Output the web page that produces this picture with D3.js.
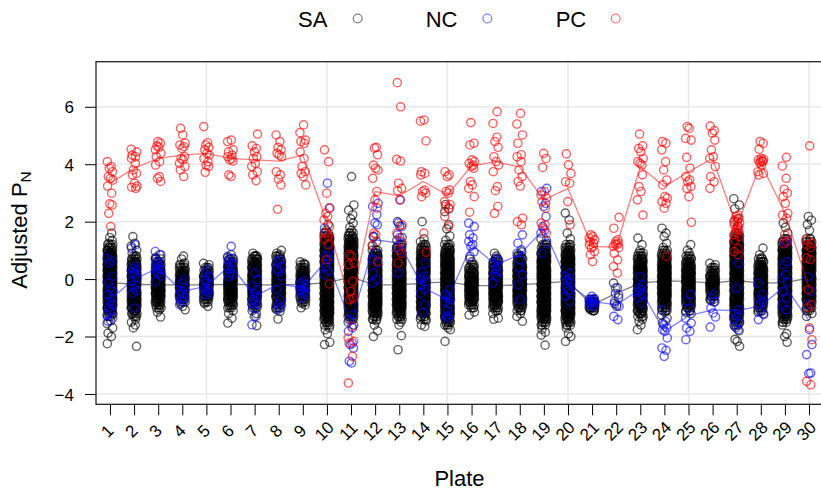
<!DOCTYPE html>
<html lang="en">
<head>
  <meta charset="UTF-8">
  <title>Adjusted PN by plate</title>
  <script src="https://d3js.org/d3.v7.min.js"></script>
  <style>
    body { margin: 0; background: #fff; }
    svg { display: block; }
    text { font-family: "Liberation Sans", Arial, sans-serif; fill: #000; }
    .tick text { font-size: 17px; }
    .tick line { stroke: #000; stroke-width: 1; }
  </style>
</head>
<body>
  <svg id="chart" width="821" height="491"></svg>

  <script>
    const plates = d3.range(1, 31);
    const yTicks = [-4, -2, 0, 2, 4, 6];
    const gridX = [5, 10, 15, 20, 25, 30];

    // per plate means (the connecting lines)
    const saMean = [-0.12, -0.18, -0.2, -0.2, -0.2, -0.18, -0.2, -0.2, -0.18, -0.13, 0.07, -0.2, -0.2, -0.14, -0.1, -0.23, -0.23, -0.2, -0.14, -0.08, -0.9, -0.5, -0.14, -0.06, -0.08, -0.14, -0.05, -0.14, -0.12, 0.03];
    const ncMean = [-0.72, 0, 0.38, -0.43, -0.25, 0.5, -0.6, -0.17, -0.3, 0.67, -1.53, 1.37, 1.25, -0.3, -0.72, 1.2, 0.5, 0.85, 1.75, -0.15, -0.78, -0.9, -0.35, -1.82, -1.28, -1.07, -1.1, -0.93, -0.25, -1.45];
    const pcMean = [3.34, 3.86, 4.2, 4.32, 4.38, 4.2, 4.15, 4.11, 4.32, 2.0, -0.9, 3.05, 2.9, 3.4, 2.93, 3.94, 4.09, 3.9, 2.76, 3.16, 1.14, 1.11, 3.92, 3.22, 3.74, 4.2, 1.83, 4.03, 2.3, -0.31];

    // SA samples: how many sit around each level in the dense part of a column
    const saLevels = [-1.6, -1.5, -1.4, -1.3, -1.2, -1.1, -1, -0.9, -0.8, -0.7, -0.6, -0.5, -0.4, -0.3, -0.2, -0.1, 0, 0.1, 0.2, 0.3, 0.4, 0.5, 0.6, 0.7, 0.8, 0.9, 1, 1.1, 1.2, 1.3, 1.4, 1.5, 1.6];
    const saCounts = [
      [0, 0, 0, 3, 4, 5, 6, 7, 8, 8, 8, 8, 8, 8, 8, 8, 8, 8, 8, 8, 8, 8, 8, 8, 7, 6, 5, 4, 3],
      [0, 0, 0, 3, 4, 5, 6, 7, 8, 8, 8, 8, 8, 8, 8, 8, 8, 8, 8, 8, 7, 6, 5, 4, 3],
      [0, 0, 0, 0, 0, 0, 3, 4, 5, 6, 7, 8, 8, 8, 8, 8, 8, 8, 8, 7, 6, 5, 4, 3],
      [0, 0, 0, 0, 0, 0, 0, 0, 3, 4, 5, 6, 7, 8, 8, 8, 8, 7, 6, 5, 4, 3],
      [0, 0, 0, 0, 0, 0, 0, 0, 3, 4, 5, 6, 7, 8, 8, 8, 7, 6, 5, 4, 3],
      [0, 0, 0, 0, 0, 0, 3, 4, 5, 6, 7, 8, 8, 8, 8, 8, 8, 8, 8, 7, 6, 5, 4, 3],
      [0, 0, 0, 0, 0, 0, 3, 4, 5, 6, 7, 8, 8, 8, 8, 8, 8, 8, 8, 8, 7, 6, 5, 4, 3],
      [0, 0, 0, 0, 0, 0, 3, 4, 5, 6, 7, 8, 8, 8, 8, 8, 8, 8, 8, 8, 7, 6, 5, 4, 3],
      [0, 0, 0, 0, 0, 0, 0, 0, 3, 4, 5, 6, 7, 8, 8, 8, 8, 7, 6, 5, 4, 3],
      [3, 4, 5, 6, 7, 8, 8, 8, 8, 8, 8, 8, 8, 8, 8, 8, 8, 8, 8, 8, 8, 8, 8, 8, 8, 8, 8, 8, 7, 6, 5, 4, 3],
      [0, 0, 3, 4, 5, 6, 7, 8, 8, 8, 8, 8, 8, 8, 8, 8, 8, 8, 8, 8, 8, 8, 8, 8, 8, 8, 8, 8, 7, 6, 5, 4, 3],
      [0, 0, 3, 4, 5, 6, 7, 8, 8, 8, 8, 8, 8, 8, 8, 8, 8, 8, 8, 8, 8, 8, 7, 6, 5, 4, 3],
      [0, 0, 3, 4, 5, 6, 7, 8, 8, 8, 8, 8, 8, 8, 8, 8, 8, 8, 8, 8, 8, 8, 8, 8, 7, 6, 5, 4, 3],
      [0, 0, 3, 4, 5, 6, 7, 8, 8, 8, 8, 8, 8, 8, 8, 8, 8, 8, 8, 8, 8, 8, 8, 8, 7, 6, 5, 4, 3],
      [3, 4, 5, 6, 7, 8, 8, 8, 8, 8, 8, 8, 8, 8, 8, 8, 8, 8, 8, 8, 8, 8, 8, 8, 7, 6, 5, 4, 3],
      [0, 0, 0, 0, 0, 0, 3, 4, 5, 6, 7, 8, 8, 8, 8, 8, 8, 7, 6, 5, 4, 3],
      [0, 0, 0, 0, 0, 3, 4, 5, 6, 7, 8, 8, 8, 8, 8, 8, 8, 8, 8, 7, 6, 5, 4, 3],
      [0, 0, 0, 0, 0, 3, 4, 5, 6, 7, 8, 8, 8, 8, 8, 8, 8, 8, 8, 8, 7, 6, 5, 4, 3],
      [3, 4, 5, 6, 7, 8, 8, 8, 8, 8, 8, 8, 8, 8, 8, 8, 8, 8, 8, 8, 8, 8, 8, 8, 7, 6, 5, 4, 3],
      [3, 4, 5, 6, 7, 8, 8, 8, 8, 8, 8, 8, 8, 8, 8, 8, 8, 8, 8, 8, 8, 8, 8, 8, 7, 6, 5, 4, 3],
      [0, 0, 0, 0, 0, 3, 5, 6, 5, 3],
      [],
      [0, 0, 0, 3, 4, 5, 6, 7, 8, 8, 8, 8, 8, 8, 8, 8, 8, 8, 8, 8, 8, 7, 6, 5, 4, 3],
      [0, 0, 0, 0, 0, 3, 4, 5, 6, 7, 8, 8, 8, 8, 8, 8, 8, 8, 8, 8, 8, 8, 7, 6, 5, 4, 3],
      [0, 0, 0, 0, 0, 3, 4, 5, 6, 7, 8, 8, 8, 8, 8, 8, 8, 8, 8, 8, 7, 6, 5, 4, 3],
      [0, 0, 0, 0, 0, 0, 0, 0, 0, 3, 4, 5, 6, 7, 8, 8, 7, 6, 5, 4, 3],
      [3, 4, 5, 6, 7, 8, 8, 8, 8, 8, 8, 8, 8, 8, 8, 8, 8, 8, 8, 8, 8, 8, 8, 8, 8, 8, 8, 8, 7, 6, 5, 4, 3],
      [0, 0, 0, 0, 0, 3, 4, 5, 6, 7, 8, 8, 8, 8, 8, 8, 8, 8, 8, 7, 6, 5, 4, 3],
      [0, 3, 4, 5, 6, 7, 8, 8, 8, 8, 8, 8, 8, 8, 8, 8, 8, 8, 8, 8, 8, 8, 8, 8, 8, 8, 7, 6, 5, 4, 3],
      [0, 0, 0, 0, 0, 3, 4, 5, 6, 7, 8, 8, 8, 8, 8, 8, 8, 8, 8, 8, 8, 8, 8, 8, 8, 8, 7, 6, 5, 4, 3]
    ];
    // SA samples that stand apart above and below the dense part
    const saTails = [
      [1.6, 1.45, 1.35, 1.25, -1.45, -1.55, -1.7, -1.88, -2.0, -2.25],
      [1.48, 1.25, 1.15, 1.0, 0.9, -1.4, -1.5, -1.6, -1.7, -2.34],
      [0.85, 0.75, -1.07, -1.15, -1.32],
      [0.8, 0.7, 0.56, -0.85, -0.95, -1.07],
      [0.55, 0.5, -0.85, -0.95],
      [0.85, 0.75, -1.1, -1.2, -1.36, -1.53],
      [0.9, 0.8, 0.7, -1.1, -1.2, -1.3, -1.62],
      [1.0, 0.9, 0.85, -1.05, -1.12, -1.39],
      [0.6, 0.55, -0.85, -0.9, -1.0],
      [1.9, 1.7, -1.7, -1.76, -1.9, -2.2, -2.28],
      [3.57, 2.58, 2.4, 2.24, 2.1, 1.95, 1.8, 1.7, -1.5, -1.6],
      [1.48, 1.3, 1.15, -1.45, -1.6, -1.8, -2.0],
      [2.0, 1.85, 1.45, 1.35, -1.5, -1.6, -1.97, -2.46],
      [2.0, 1.4, 1.3, -1.45, -1.6, -1.65],
      [2.6, 2.45, 2.35, 1.9, 1.75, 1.5, 1.35, -1.7, -1.76, -2.17],
      [0.7, 0.6, -1.15, -1.25],
      [0.9, 0.8, -1.2, -1.36, -1.4],
      [0.95, 0.85, -1.2, -1.3, -1.47],
      [1.4, 1.35, -1.75, -1.85, -1.95, -2.3],
      [2.3, 2.06, 1.6, 1.4, -1.7, -1.9, -2.0, -2.17],
      [-0.7, -0.9, -1.05, -1.1],
      [-0.14, -0.3, -0.5, -0.65, -0.85, -0.95],
      [1.43, 1.2, 1.0, -1.4, -1.47, -1.6, -1.76],
      [1.77, 1.6, 1.48, 1.25, 1.1, -1.15, -1.25, -1.36, -1.53],
      [1.2, 1.0, 0.9, -1.15, -1.2],
      [0.55, 0.5, -0.75, -0.8],
      [2.8, 2.58, 2.45, 2.1, 2.0, 1.85, -1.7, -1.8, -2.1, -2.17, -2.34],
      [1.08, 0.85, 0.75, -1.15, -1.2],
      [1.95, 1.8, 1.6, -1.6, -1.9, -2.0, -2.2],
      [2.18, 2.05, 1.9, 1.7, -1.2, -1.3]
    ];

    const ncValues = [
      [0.73, 0.65, 0.56, 0.1, -0.14, -0.3, -0.43, -0.55, -0.66, -0.78, -0.89, -1.0, -1.12, -1.25, -1.36, -1.47],
      [1.19, 1.08, 0.44, 0.38, 0.32, 0.25, 0.21, 0.05, -0.08, -0.2, -0.31, -0.4, -0.49, -1.01],
      [0.96, 0.85, 0.61, 0.55, 0.5, 0.44, 0.38, 0.32, 0.25, 0.2, 0.1, -0.08],
      [-0.02, -0.15, -0.31, -0.4, -0.49, -0.55, -0.66, -0.72, -0.78, -0.89],
      [0.32, 0.21, 0.1, -0.02, -0.1, -0.2, -0.3, -0.35, -0.43, -0.48, -0.54],
      [1.14, 0.79, 0.72, 0.67, 0.55, 0.44, 0.35, 0.21, 0.15, 0.09],
      [0.21, -0.02, -0.25, -0.37, -0.5, -0.6, -0.7, -0.78, -0.85, -0.89, -1.0, -1.3, -1.59],
      [0.67, 0.6, 0.44, 0.35, 0.27, 0.1, -0.37, -0.72, -0.89, -1.0, -1.07],
      [-0.08, -0.15, -0.2, -0.25, -0.31, -0.38, -0.43, -0.49, -0.55, -0.66],
      [3.34, 2.47, 1.77, 0.96, 0.8, 0.67, 0.44, 0.3, 0.15],
      [-1.24, -1.41, -1.7, -1.82, -2.23, -2.28, -2.4, -2.86, -2.92],
      [2.64, 2.53, 2.24, 1.95, 1.89, 1.48, 0.9, 0.7, 0.56, 0.21, -0.02, -0.14],
      [2.76, 1.95, 1.83, 1.54, 1.45, 1.25, 1.1, 0.96, 0.21],
      [0.56, 0.25, 0.09, -0.02, -0.1, -0.2, -0.35, -0.49, -0.89, -1.18],
      [-0.37, -0.55, -0.66, -0.72, -0.78, -0.85, -1.12, -1.24, -1.3, -1.36],
      [1.95, 1.83, 1.54, 1.43, 1.31, 1.2, 1.14, 0.95, 0.79],
      [0.73, 0.65, 0.56, 0.44, 0.35, 0.27, 0.18, 0.09, -0.14],
      [1.54, 1.25, 1.02, 0.9, 0.67, 0.4, 0.15, -0.2, -0.72],
      [3.16, 3.05, 2.64, 2.53, 2.18, 1.83, 1.7, 1.6, 1.25, 0.9],
      [0.21, 0.1, 0.03, -0.05, -0.14, -0.26, -0.4, -0.49, -0.6, -0.78],
      [-0.6, -0.68, -0.72, -0.75, -0.78, -0.8, -0.83, -0.86, -0.89, -0.95],
      [-0.31, -0.54, -0.78, -0.89, -0.95, -1.3, -1.41],
      [0.09, -0.2, -0.3, -0.37, -0.45, -0.54, -0.66, -0.83],
      [-1.07, -1.47, -1.59, -1.7, -1.76, -1.82, -2.05, -2.4, -2.48, -2.69],
      [-0.54, -0.78, -1.01, -1.36, -1.53, -1.7, -1.82, -2.11],
      [-0.54, -0.66, -0.78, -1.01, -1.18, -1.32, -1.67],
      [0.56, -0.31, -1.07, -1.2, -1.3, -1.4, -1.53, -1.65, -1.76],
      [-0.14, -0.54, -0.72, -0.8, -0.89, -1.12, -1.24, -1.41],
      [1.31, 1.25, 0.61, 0.5, 0.15, 0.03, -0.1, -0.43, -0.66, -0.9, -1.07],
      [0.09, -0.43, -0.89, -1.76, -2.28, -2.63, -3.27, -3.29]
    ];

    const pcValues = [
      [4.09, 3.92, 3.86, 3.74, 3.57, 3.51, 3.45, 3.24, 2.99, 2.62, 2.58, 2.29, 1.83],
      [4.52, 4.43, 4.32, 4.26, 4.2, 4.03, 3.8, 3.68, 3.63, 3.34, 3.24, 3.2, 3.16],
      [4.79, 4.73, 4.64, 4.59, 4.5, 4.38, 4.26, 4.09, 3.97, 3.57, 3.51, 3.4],
      [5.25, 5.02, 4.73, 4.67, 4.61, 4.55, 4.26, 4.2, 4.15, 4.03, 3.92, 3.8, 3.57],
      [5.31, 4.75, 4.67, 4.59, 4.5, 4.38, 4.32, 4.2, 4.09, 3.97, 3.92, 3.72],
      [4.84, 4.79, 4.5, 4.43, 4.32, 4.26, 4.2, 4.15, 4.11, 3.63, 3.57],
      [5.05, 4.64, 4.55, 4.43, 4.26, 4.2, 4.03, 3.92, 3.74, 3.63, 3.43],
      [5.02, 4.79, 4.59, 4.5, 4.38, 4.32, 4.26, 3.74, 3.63, 3.48, 3.28, 2.43],
      [5.37, 5.1, 4.84, 4.79, 4.73, 4.43, 4.2, 3.92, 3.74, 3.68, 3.57, 3.28],
      [4.5, 4.09, 2.99, 2.47, 2.29, 2.18, 2.06, 1.83, 1.6, 1.5, 1.4, 1.2, 0.67, -0.17],
      [0.85, 0.79, 0.56, 0.5, -0.08, -0.43, -0.66, -0.72, -1.65, -2.05, -2.17, -2.23, -2.69, -3.62],
      [4.59, 4.56, 4.33, 3.97, 3.86, 3.8, 3.51, 3.05, 2.76, 2.47, 1.6, 1.54, 1.19, 0.61],
      [6.84, 6.0, 4.17, 4.11, 3.34, 3.16, 3.08, 2.76, 1.89, 1.6, 1.31, 1.02, 0.9, 0.56],
      [5.54, 5.5, 4.81, 3.74, 3.68, 3.63, 3.1, 3.05, 2.99, 2.87, 1.6, 0.93],
      [3.74, 3.63, 3.57, 3.1, 3.05, 2.99, 2.7, 2.59, 2.53, 2.47, 2.18, 1.83],
      [5.45, 4.73, 4.67, 4.15, 4.09, 4.03, 3.97, 3.92, 3.86, 3.4, 3.28, 3.16, 2.87, 2.33],
      [5.83, 5.42, 4.94, 4.79, 4.59, 4.26, 4.09, 3.97, 3.74, 3.22, 3.08, 2.53, 2.29],
      [5.77, 5.4, 5.02, 4.73, 4.33, 4.26, 4.09, 3.8, 3.57, 3.4, 3.24, 2.12, 2.0, 1.89],
      [4.38, 4.2, 3.89, 3.05, 2.93, 2.82, 2.7, 2.47, 1.95, 1.89, 1.77, 1.6],
      [4.36, 3.98, 3.68, 3.39, 3.34, 2.7, 1.89],
      [1.54, 1.48, 1.43, 1.37, 1.31, 1.25, 1.19, 1.14, 1.08, 0.96, 0.85, 0.61],
      [2.15, 1.77, 1.37, 1.31, 1.25, 1.22, 1.19, 1.14, 1.1, 0.9, 0.67, 0.44, 0.21],
      [5.05, 4.64, 4.55, 4.43, 4.2, 4.09, 3.97, 4.03, 3.63, 3.22, 3.05, 2.76, 2.23],
      [4.79, 4.73, 4.5, 4.09, 3.8, 3.45, 3.28, 2.87, 2.82, 2.7, 2.64, 2.47, 0.79],
      [5.31, 5.25, 4.9, 4.84, 4.24, 3.86, 3.57, 3.45, 3.39, 3.22, 3.16, 2.87, 1.98],
      [5.33, 5.17, 5.08, 4.84, 4.5, 4.26, 4.2, 3.92, 3.57, 3.39, 3.16],
      [2.23, 2.18, 2.12, 2.06, 2.0, 1.95, 1.89, 1.83, 1.77, 1.71, 1.66, 1.6, 1.54, 1.48, 1.35, 1.05, 0.96, 0.85],
      [4.79, 4.73, 4.52, 4.2, 4.17, 4.15, 4.12, 4.1, 4.09, 4.05, 3.97, 3.74, 3.68, 3.63],
      [4.24, 3.94, 3.51, 3.13, 2.99, 2.87, 2.64, 2.29, 2.23, 2.12, 1.54, 1.31, 1.23],
      [4.64, 1.37, 1.25, 1.19, 1.1, 0.73, 0.68, -0.37, -0.89, -1.0, -1.7, -2.11, -3.56, -3.68]
    ];

    const legendItems = ["SA", "NC", "PC"];
    const colors = { SA: "#000000", NC: "#0000ff", PC: "#ff0000" };
    // fixed sideways offsets, in plate units, cycled through the samples
    const jitter = [-0.11, 0.05, -0.03, 0.1, -0.07, 0.02, 0.12, -0.1, 0.07, -0.01, 0.09, -0.05, 0.03, -0.12, 0.11, -0.08, 0.06];

    const svg = d3.select("#chart");
    const plotLeft = 96, plotRight = 823, plotTop = 61.7, plotBottom = 404.3;

    const x = d3.scaleLinear().domain([0.42, 30.58]).range([plotLeft, plotRight]);
    const y = d3.scaleLinear().domain([-4.36, 7.57]).range([plotBottom, plotTop]);

    // grid
    svg.append("g").selectAll("line").data(yTicks).enter().append("line")
      .attr("x1", plotLeft).attr("x2", plotRight)
      .attr("y1", d => y(d)).attr("y2", d => y(d))
      .attr("stroke", "#e8e8e8").attr("stroke-width", 1.5);
    svg.append("g").selectAll("line").data(gridX).enter().append("line")
      .attr("y1", plotTop).attr("y2", plotBottom)
      .attr("x1", d => x(d)).attr("x2", d => x(d))
      .attr("stroke", "#e8e8e8").attr("stroke-width", 1.5);

    // flatten the columns into points
    const saPoints = [];
    plates.forEach((p, i) => {
      saCounts[i].forEach((n, l) => {
        d3.range(n).forEach(() => saPoints.push({ plate: p, value: saLevels[l] }));
      });
      saTails[i].forEach(v => saPoints.push({ plate: p, value: v }));
    });
    const toPoints = rows => rows.flatMap((vals, i) => vals.map(v => ({ plate: plates[i], value: v })));

    function drawSeries(points, means, color) {
      const line = d3.line().x((d, i) => x(plates[i])).y(d => y(d));
      const g = svg.append("g");
      g.selectAll("circle").data(points).enter().append("circle")
        .attr("cx", (d, i) => x(d.plate + jitter[i % jitter.length]))
        .attr("cy", d => y(d.value))
        .attr("r", 4.1)
        .attr("fill", "none")
        .attr("stroke", color)
        .attr("stroke-opacity", 0.62)
        .attr("stroke-width", 1.4);
      g.append("path").datum(means)
        .attr("d", line)
        .attr("fill", "none")
        .attr("stroke", color)
        .attr("stroke-opacity", 0.5)
        .attr("stroke-width", 1.3);
    }

    drawSeries(saPoints, saMean, colors.SA);
    drawSeries(toPoints(ncValues), ncMean, colors.NC);
    drawSeries(toPoints(pcValues), pcMean, colors.PC);

    // axes
    const xAxis = svg.append("g")
      .attr("transform", `translate(0,${plotBottom})`)
      .call(d3.axisBottom(x).tickValues(plates).tickFormat(d3.format("d")).tickSize(11));
    xAxis.select(".domain").remove();
    xAxis.selectAll("text")
      .attr("text-anchor", "middle")
      .attr("dy", null)
      .attr("y", null)
      .attr("transform", "translate(-3,27) rotate(-45)")
      .attr("dominant-baseline", "central");

    const yAxis = svg.append("g")
      .attr("transform", `translate(${plotLeft},0)`)
      .call(d3.axisLeft(y).tickValues(yTicks).tickFormat(d3.format("d")).tickSize(11).tickPadding(11));
    yAxis.select(".domain").remove();
    yAxis.selectAll("text").attr("dy", "0.36em");

    svg.append("rect")
      .attr("x", plotLeft).attr("y", plotTop)
      .attr("width", plotRight - plotLeft).attr("height", plotBottom - plotTop)
      .attr("fill", "none").attr("stroke", "#222").attr("stroke-width", 1.3);

    // titles
    svg.append("text").attr("x", 459.5).attr("y", 486.3)
      .attr("text-anchor", "middle").style("font-size", "22px").text("Plate");

    const yTitle = svg.append("text")
      .attr("transform", "translate(27,230) rotate(-90)")
      .attr("text-anchor", "middle").style("font-size", "22px");
    yTitle.append("tspan").text("Adjusted P");
    yTitle.append("tspan").attr("dy", 4).style("font-size", "15.5px").text("N");

    // legend
    const legendTextX = d3.scaleOrdinal().domain(legendItems).range([298, 425.7, 555.7]);
    const legendDotX = d3.scaleOrdinal().domain(legendItems).range([357.7, 487.3, 615.7]);
    const legend = svg.append("g").selectAll("g").data(legendItems).enter().append("g");
    legend.append("text")
      .attr("x", d => legendTextX(d)).attr("y", 27)
      .style("font-size", "22px").text(d => d);
    legend.append("circle")
      .attr("cx", d => legendDotX(d)).attr("cy", 18.5).attr("r", 4.4)
      .attr("fill", "none").attr("stroke", d => colors[d])
      .attr("stroke-opacity", 0.5).attr("stroke-width", 1.3);
  </script>
</body>
</html>
